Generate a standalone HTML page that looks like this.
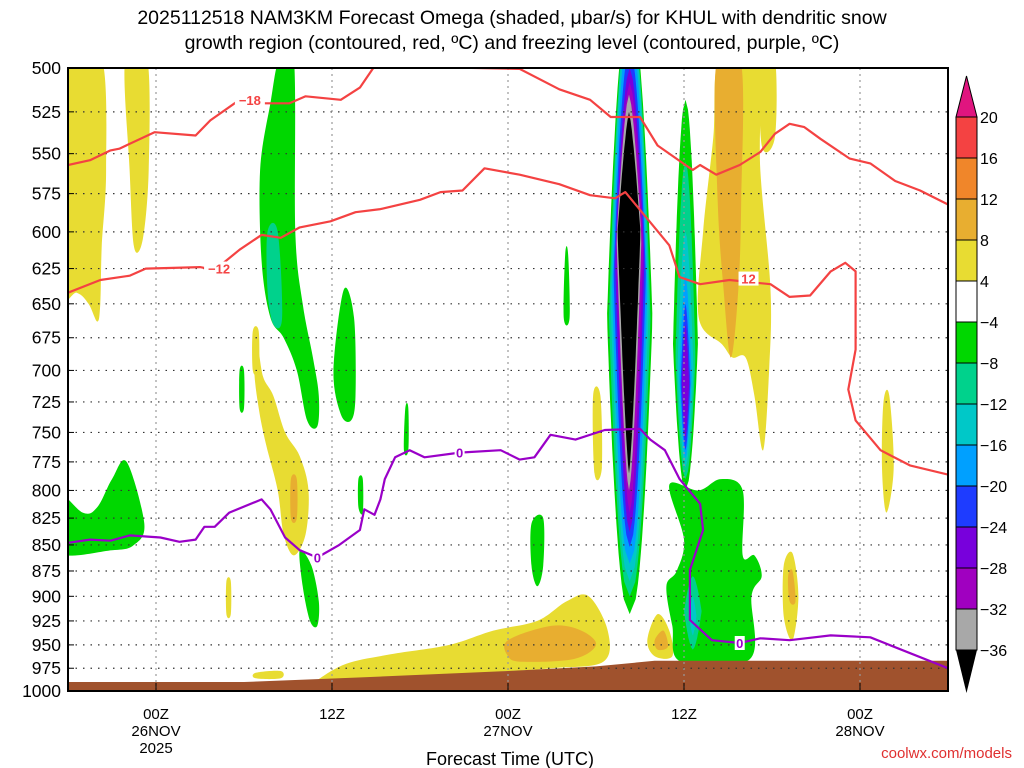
<!DOCTYPE html>
<html><head><meta charset="utf-8"><style>
html,body{margin:0;padding:0;background:#fff;}
svg{display:block;font-family:"Liberation Sans",sans-serif;}
</style></head><body>
<svg id="chart" width="1024" height="768" viewBox="0 0 1024 768" xmlns="http://www.w3.org/2000/svg">
<defs><clipPath id="plotclip"><rect x="68" y="68" width="880" height="623"/></clipPath></defs>
<text x="512" y="24" text-anchor="middle" font-size="19.5">2025112518 NAM3KM Forecast Omega (shaded, μbar/s) for KHUL with dendritic snow</text>
<text x="512" y="49" text-anchor="middle" font-size="19.5">growth region (contoured, red, ºC) and freezing level (contoured, purple, ºC)</text>
<g id="plot" clip-path="url(#plotclip)"></g>
<g id="overlay"></g>
<rect x="68" y="68" width="880" height="623" fill="none" stroke="#000" stroke-width="2"/>
<text x="510" y="765" text-anchor="middle" font-size="18">Forecast Time (UTC)</text>
<text x="1012" y="758" text-anchor="end" font-size="15" fill="#e03030">coolwx.com/models</text>
</svg>
<script>
const NS='http://www.w3.org/2000/svg';
// ---- data ----
const pressureTicks=[500,525,550,575,600,625,650,675,700,725,750,775,800,825,850,875,900,925,950,975,1000];
const timeTickHours=[6,18,30,42,54];
const timeTickLabels=[["00Z","26NOV","2025"],["12Z"],["00Z","27NOV"],["12Z"],["00Z","28NOV"]];
const colorLevels=[20,16,12,8,4,-4,-8,-12,-16,-20,-24,-28,-32,-36];
const binColors=['#f44242','#f0862a','#e8ae30','#e8dc32','#ffffff','#00d700','#00d28c','#00c8c8','#00a0ff','#1e3cff','#7800dc','#a000c0','#a8a8a8'];
const groundSurface=[[0,990],[12,990],[20,985],[30,978],[36,973],[40,967],[60,967]];
const yellowBlobs=[
 [[0,495],[2.3,495],[2.6,560],[2.3,610],[2.2,650],[2,663],[1.4,650],[0.6,642],[-1,640]],
 [[3.9,495],[5.4,495],[5.5,560],[5.1,605],[4.5,610],[4.2,560]],
 [[12.9,680],[13.3,705],[14,720],[14.8,750],[15.8,770],[16.4,800],[16.2,840],[15.4,860],[14.7,840],[14.3,800],[13.5,760],[13,730],[12.7,700]],
 [[44.4,495],[47,495],[47.2,560],[47.9,640],[47.8,700],[47.4,765],[46.8,720],[46.2,690],[45.3,690],[44.6,680],[43,660],[43.3,600],[44,540]],
 [[47.2,495],[48.2,495],[48.2,540],[47.3,545]],
 [[17,988],[19,970],[22,960],[26,950],[29,935],[32,925],[34,905],[35.5,900],[36.8,935],[36.5,968],[33,975],[28,980],[22,985],[17,992]],
 [[39.5,945],[40.2,918],[41,935],[41.2,962],[40,962]],
 [[35.8,720],[36.3,720],[36.4,780],[35.9,785]],
 [[48.8,870],[49.4,858],[49.8,900],[49.4,945],[48.8,920]],
 [[55.6,725],[56,720],[56.3,780],[55.8,820],[55.5,780]],
 [[10.8,885],[11.1,885],[11.1,918],[10.8,918]],
 [[12.6,670],[13,670],[13,700],[12.6,700]],
 [[12.8,980],[14.5,978],[14.5,986],[12.8,986]]];
const orangeBlobs=[
 [[15.2,790],[15.6,790],[15.6,825],[15.2,825]],
 [[44.2,498],[45.9,498],[45.9,580],[45.7,640],[45.2,690],[44.7,640],[44.3,580]],
 [[30,945],[33,930],[35,935],[36,950],[34.5,965],[31,968],[30,962]],
 [[40,945],[40.6,935],[40.9,952],[40.2,955]],
 [[49.1,880],[49.4,875],[49.6,905],[49.2,905]]];
const greenBlobs=[
 [[14.4,495],[15.4,495],[15.5,600],[16,650],[16.7,690],[17.1,720],[17,745],[16.3,740],[15.6,700],[14.7,675],[13.8,660],[13.2,620],[13.1,560],[13.8,520]],
 [[18.8,640],[19.5,660],[19.6,720],[19.3,740],[18.6,735],[18.1,700]],
 [[-1,800],[1,820],[2,815],[3,790],[4,775],[5.2,830],[4.5,850],[3,855],[-1,856]],
 [[41,795],[43,800],[44.5,790],[46,800],[46,860],[46.8,860],[47.3,880],[46.6,900],[46.5,965],[41.8,968],[41.2,930],[40.8,890],[41.5,875],[42,845]],
 [[33.9,615],[34.1,615],[34.2,660],[33.8,660]],
 [[23,730],[23.2,730],[23.2,765],[22.9,765]],
 [[19.8,790],[20.1,790],[20.1,820],[19.8,815]],
 [[15.8,855],[16.6,870],[17.1,905],[17,930],[16.5,925],[16,890]],
 [[31.6,830],[32.4,825],[32.4,870],[32,890],[31.6,870]],
 [[11.7,700],[12,700],[12,730],[11.7,730]]];
const tealBlobs=[[[13.6,600],[14.3,600],[14.6,660],[14,665],[13.6,640]]];
// columns: [center hour, half width hours, top hPa, bottom hPa, widest hPa, bin index, shape exponent]
const column1=[[38.3,1.55,470,918,660,5,0.45],[38.3,1.42,470,900,660,6,0.45],[38.3,1.3,470,885,650,7,0.45],[38.3,1.2,480,868,640,8,0.45],[38.3,1.1,490,852,630,9,0.5],[38.3,1.0,500,838,620,10,0.55],[38.3,0.92,508,820,610,11,0.6],[38.25,0.85,515,800,605,12,0.65],[38.25,0.78,525,785,600,13,0.75]];
const column2=[[42.1,0.85,518,800,680,5,0.5],[42.1,0.68,555,790,690,6,0.5],[42.1,0.55,600,780,700,7,0.55],[42.1,0.42,630,772,705,8,0.6],[42.1,0.33,650,765,710,9,0.6],[42.1,0.25,665,755,710,10,0.65],[42.6,0.6,880,955,915,6,0.6],[42.6,0.25,900,940,920,7,0.7]];
const dgzWarm=[[0,557],[1.5,554],[2.9,548],[3.5,547],[5.9,537],[8.7,539],[9.7,530],[11.7,518],[13.1,520],[15.1,520],[16.2,516],[18.6,518],[19.9,511],[20.9,499],[25,499.5],[30.8,500.5],[33.5,512],[35.6,518],[37,528],[39,528],[40.2,545],[42.1,557],[42.6,560],[43.1,557],[44.2,563],[45.8,557],[47.2,549],[48.2,538],[49.2,532],[50.2,534],[51.3,541],[53.3,553],[54.7,556],[56.4,567],[58.1,573],[60,582]];
const dgzCold=[[0,642],[2.2,633],[4.2,630],[5.3,625],[9,624],[10,626],[11.7,612],[13.2,602],[14.5,604],[15.8,597],[17.9,593],[19.6,587],[21.3,585],[24,579],[25.4,574],[26.9,573],[28.4,559],[30.8,563],[33.5,569],[35.6,576],[37.3,578],[38,574],[39.3,589],[41,609],[41.7,631],[43.1,636],[45.1,633],[47.9,636],[49.2,645],[50.6,644],[52,627],[53,621],[53.7,627],[53.7,684],[53.2,715],[53.7,740],[55.4,765],[57.4,778],[60,786]];
const freezingLevel=[[0,848],[1.5,845],[2.9,846],[4.2,841],[6.3,843],[7.6,847],[8.7,845],[9.3,833],[10,833],[11,820],[13.2,808],[13.8,817],[14.8,843],[15.8,855],[17,862],[18.5,850],[19.9,836],[20.2,817],[20.9,822],[21.3,808],[21.6,790],[22.3,771],[23.3,765],[24.3,771],[26.7,767],[29.5,765],[30.8,773],[31.8,771],[32.9,752],[34.6,756],[36.6,748],[39,747],[39.7,756],[40.7,765],[41.7,790],[43.1,812],[43.3,836],[42.4,874],[42.4,924],[43.9,945],[45.8,948],[47.2,943],[49.2,945],[52,940],[54.7,942],[56,950],[60,975]];
const contourLabels=[["-18",12.4,518,'#f44242'],["-12",10.3,625,'#f44242'],["12",46.4,632,'#f44242'],["0",17,862,'#9a00c8'],["0",26.7,767,'#9a00c8'],["0",45.8,948,'#9a00c8']];
// ---- axes ----
const X0=68,X1=948,Y0=68,Y1=691,HMAX=60;
const xh=h=>X0+h*(X1-X0)/HMAX;
const yp=p=>Y0+(Y1-Y0)*Math.log(p/500)/Math.log(2);
const plot=document.getElementById('plot'),ov=document.getElementById('overlay'),svg=document.getElementById('chart');
function mk(tag,attrs,parent){const e=document.createElementNS(NS,tag);for(const k in attrs)e.setAttribute(k,attrs[k]);(parent||plot).appendChild(e);return e;}
function smooth(pts){const P=pts.map(d=>[xh(d[0]),yp(d[1])]);const n=P.length;let s='M'+P[0][0].toFixed(1)+' '+P[0][1].toFixed(1);
 for(let i=0;i<n;i++){const p0=P[(i-1+n)%n],p1=P[i],p2=P[(i+1)%n],p3=P[(i+2)%n];
 s+=' C'+(p1[0]+(p2[0]-p0[0])/6).toFixed(1)+' '+(p1[1]+(p2[1]-p0[1])/6).toFixed(1)+' '+(p2[0]-(p3[0]-p1[0])/6).toFixed(1)+' '+(p2[1]-(p3[1]-p1[1])/6).toFixed(1)+' '+p2[0].toFixed(1)+' '+p2[1].toFixed(1);}
 return s+'Z';}
function blobs(list,color,name){list.forEach(b=>{const e=mk('path',{d:smooth(b),fill:color});
 
 });}
function lens(col,name){col.forEach(c=>{const [ch,hw,top,bot,wid,bi,ex]=c;const lt=Math.log(top),lb=Math.log(bot),lw=(Math.log(wid)-lt)/(lb-lt);
 const R=[],L=[];for(let i=0;i<=40;i++){const u=i/40;let f=u<lw?u/lw:1-(u-lw)/(1-lw);f=Math.pow(Math.max(f,0),ex);
 const p=Math.exp(lt+u*(lb-lt));R.push([xh(ch+hw*f),yp(p)]);L.unshift([xh(ch-hw*f),yp(p)]);}
 const pts=R.concat(L);const e=mk('path',{d:'M'+pts.map(q=>q[0].toFixed(1)+' '+q[1].toFixed(1)).join(' L')+'Z',fill:bi>=13?'#000':binColors[bi]});
 
 });}
blobs(yellowBlobs,binColors[3],'omega-positive-4-8');
blobs(orangeBlobs,binColors[2],'omega-positive-8-12');
blobs(greenBlobs,binColors[5],'omega-negative-4-8');
blobs(tealBlobs,binColors[6],'omega-negative-8-12');
lens(column1,'omega-core-column-1');
lens(column2,'omega-core-column-2');
// ground
{const pts=groundSurface.map(d=>xh(d[0]).toFixed(1)+' '+yp(d[1]).toFixed(1));
 const g=mk('path',{d:'M'+xh(0)+' '+Y1+' L'+pts.join(' L')+' L'+xh(HMAX)+' '+Y1+'Z',fill:'#a0522d'});
 
 }
// grid
pressureTicks.forEach(p=>{const l=mk('line',{x1:X0,x2:X1,y1:yp(p),y2:yp(p),stroke:'#333','stroke-width':1.2,'stroke-dasharray':'1.5 6'});
 
 });
timeTickHours.forEach(h=>{const l=mk('line',{x1:xh(h),x2:xh(h),y1:Y0,y2:Y1,stroke:'#999','stroke-width':1.2,'stroke-dasharray':'2 4'});
 
 });
// contours
function line(pts,color,name){const e=mk('path',{d:'M'+pts.map(d=>xh(d[0]).toFixed(1)+' '+yp(d[1]).toFixed(1)).join(' L'),fill:'none',stroke:color,'stroke-width':2.2,'stroke-linejoin':'round'});
 
 }
line(dgzWarm,'#f44242','dgz-contour-minus-18');
line(dgzCold,'#f44242','dgz-contour-minus-12');
line(freezingLevel,'#9a00c8','freezing-level-contour-0');
contourLabels.forEach(c=>{const x=xh(c[1]),y=yp(c[2]);
 const r=mk('rect',{x:x-(c[0].length*5),y:y-7,width:c[0].length*10,height:14,fill:'#fff'});
 
 
 const t=mk('text',{x:x,y:y+5,'text-anchor':'middle','font-size':13,'font-weight':'bold',fill:c[3]});t.textContent=c[0].replace('-','−');
 
 });
// axes labels
pressureTicks.forEach(p=>{const t=mk('text',{x:61,y:yp(p)+6,'text-anchor':'end','font-size':17.5},ov);t.textContent=p;
 
 
 const k=mk('line',{x1:X0,x2:X0+6,y1:yp(p),y2:yp(p),stroke:'#000'},ov);
 
 });
timeTickHours.forEach((h,i)=>{timeTickLabels[i].forEach((s,j)=>{const t=mk('text',{x:xh(h),y:719+j*17,'text-anchor':'middle','font-size':15},ov);t.textContent=s;
 
 });
 const k=mk('line',{x1:xh(h),x2:xh(h),y1:Y1,y2:Y1-8,stroke:'#000'},ov);
 
 });
// colorbar
{const cx=956,cw=21,top=117,bh=41;
 const tri=mk('polygon',{points:`${cx},${top} ${cx+cw},${top} ${cx+cw/2},76`,fill:'#e0157f',stroke:'#000'},ov);
 
 
 binColors.forEach((c,i)=>{const r=mk('rect',{x:cx,y:top+i*bh,width:cw,height:bh,fill:c,stroke:'#000','stroke-width':1},ov);
  
  });
 const yb=top+binColors.length*bh;
 const tri2=mk('polygon',{points:`${cx},${yb} ${cx+cw},${yb} ${cx+cw/2},693`,fill:'#000'},ov);
 
 
 colorLevels.forEach((v,i)=>{const t=mk('text',{x:980,y:top+i*bh+6,'font-size':16},ov);t.textContent=v<0?'−'+(-v):v;
  
  });}
</script>
</body></html>
